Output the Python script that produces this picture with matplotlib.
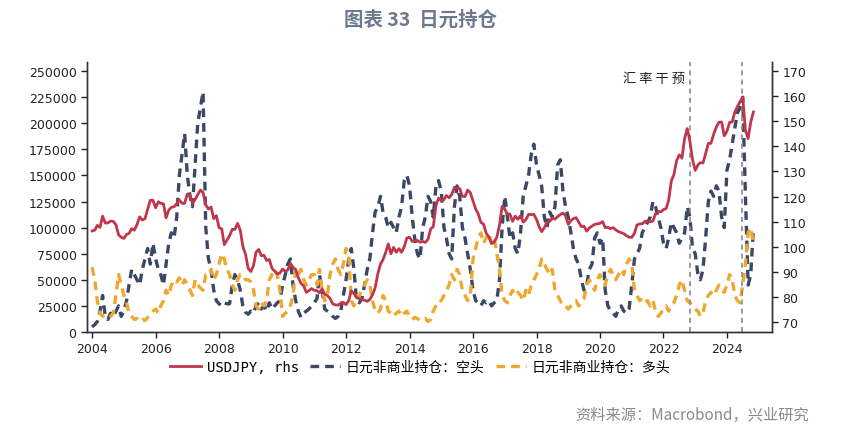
import numpy as np
import pandas as pd
import matplotlib
matplotlib.use("Agg")
import matplotlib.pyplot as plt
import matplotlib.dates as mdates

plt.rcParams['font.family'] = ['DejaVu Sans', 'Noto Sans CJK SC']

# -----------------------------------
# Monthly data, 2004-01 .. 2024-11
# -----------------------------------
usdjpy = [
    106.3, 106.6, 108.5, 107.7, 112.2, 109.4, 109.5, 110.2, 110.1, 108.8, 104.7, 103.8,
    103.3, 104.9, 105.3, 107.2, 106.6, 108.8, 111.9, 110.6, 111.2, 114.9, 118.5, 118.5,
    115.5, 117.9, 117.3, 117.1, 111.5, 114.6, 115.7, 115.9, 117.2, 118.6, 117.3, 117.3,
    121.0, 120.5, 117.3, 118.8, 120.8, 122.6, 121.6, 116.7, 115.0, 115.8, 111.2, 112.4,
    107.6, 107.1, 100.8, 102.6, 104.4, 106.9, 106.9, 109.3, 106.6, 100.1, 96.9, 91.3,
    90.1, 92.5, 97.8, 98.9, 96.4, 96.6, 94.5, 94.9, 91.4, 90.3, 89.1, 89.5,
    91.1, 90.1, 90.7, 93.4, 91.8, 90.8, 87.6, 85.4, 84.4, 81.8, 82.5, 83.3,
    82.6, 82.5, 81.6, 83.2, 81.1, 80.5, 79.4, 77.2, 76.8, 76.7, 77.5, 77.8,
    76.9, 78.5, 82.4, 81.4, 79.7, 79.3, 78.9, 78.7, 78.2, 79.0, 80.8, 83.6,
    89.2, 93.1, 94.8, 97.7, 101.1, 97.2, 99.7, 97.8, 99.2, 97.8, 100.0, 103.5,
    103.8, 102.1, 102.3, 102.5, 101.8, 102.1, 101.7, 102.9, 107.1, 108.0, 116.4, 119.4,
    118.3, 118.8, 120.4, 119.5, 120.8, 123.7, 123.3, 123.2, 120.1, 120.0, 122.6, 121.6,
    118.2, 115.0, 113.1, 109.7, 109.0, 105.4, 103.9, 101.3, 101.8, 103.8, 108.6, 116.1,
    114.9, 113.0, 113.0, 110.1, 112.2, 110.9, 112.4, 109.8, 110.8, 112.9, 112.8, 112.9,
    110.9, 107.9, 106.0, 107.6, 109.7, 110.1, 111.4, 111.0, 112.0, 112.8, 113.4, 112.4,
    108.9, 110.4, 111.2, 111.6, 109.8, 108.0, 108.2, 106.2, 107.5, 108.2, 108.9, 109.1,
    109.3, 110.0, 107.6, 107.7, 107.2, 107.6, 106.7, 106.0, 105.6, 105.2, 104.4, 103.8,
    103.7, 105.4, 108.6, 109.1, 109.1, 110.1, 110.2, 109.9, 110.2, 113.1, 114.0, 113.9,
    114.8, 115.2, 118.5, 126.2, 128.8, 134.3, 136.6, 135.3, 143.1, 147.1, 142.1, 134.8,
    130.4, 132.6, 133.5, 133.4, 137.1, 141.2, 141.2, 144.8, 147.7, 149.6, 149.7, 144.2,
    146.0, 149.6, 149.7, 153.7, 155.9, 157.9, 159.5, 146.3, 143.1, 149.7, 153.7,
]

# 日元非商业持仓：空头 (thousand contracts)
shorts_k = [
    5, 7, 10, 20, 35, 15, 12, 18, 15, 20, 25, 15,
    20, 30, 45, 60, 55, 50, 45, 60, 70, 80, 65, 85,
    70, 60, 55, 45, 65, 85, 95, 90, 110, 150, 170, 190,
    150, 130, 120, 160, 200, 215, 230, 100, 70, 60, 40, 30,
    27, 25, 28, 27, 27, 45, 55, 50, 40, 25, 19, 17,
    20, 18, 25, 28, 22, 25, 20, 28, 22, 25, 28, 30,
    45, 55, 65, 70, 45, 30, 20, 14, 18, 20, 22, 25,
    28, 32, 55, 40, 22, 20, 18, 15, 13, 15, 20, 35,
    50, 70, 80, 60, 30, 28, 32, 45, 60, 70, 95, 115,
    120, 130, 115, 110, 100, 105, 100, 95, 110, 120, 145, 150,
    140, 110, 90, 75, 70, 100, 110, 130, 125, 110, 140, 145,
    135, 100, 90, 75, 70, 120, 140, 130, 100, 90, 75, 60,
    40, 30, 28, 25, 30, 28, 30, 25, 28, 30, 50, 100,
    130, 110, 90, 95, 80, 75, 95, 130, 140, 150, 170, 180,
    160, 150, 140, 110, 100, 115, 110, 120, 160, 165, 135, 120,
    110, 95, 80, 70, 65, 50, 40, 45, 60, 65, 90, 95,
    85, 90, 40, 25, 20, 18, 15, 22, 25, 20, 18, 22,
    45, 70, 75, 80, 95, 100, 105, 110, 125, 120, 110, 100,
    85, 80, 90, 105, 100, 95, 85, 90, 95, 120, 110, 80,
    75, 55, 50, 60, 90, 125, 135, 130, 140, 135, 110, 100,
    155, 165, 180, 195, 210, 215, 225, 130, 45, 55, 100,
]

# 日元非商业持仓：多头 (thousand contracts)
longs_k = [
    62, 50, 30, 18, 15, 16, 14, 15, 18, 35, 55, 45,
    35, 28, 18, 15, 12, 13, 10, 12, 11, 14, 18, 20,
    22, 18, 25, 30, 40, 35, 45, 50, 48, 52, 45, 50,
    45, 40, 35, 50, 45, 42, 40, 55, 55, 60, 50, 55,
    65, 75, 70, 60, 55, 45, 40, 50, 55, 55, 50, 50,
    48, 40, 25, 22, 28, 25, 30, 50, 55, 60, 55, 40,
    15, 18, 20, 25, 35, 60, 55, 60, 50, 45, 50, 55,
    55, 45, 60, 40, 30, 35, 55, 65, 70, 60, 55, 65,
    80, 75, 30, 25, 35, 35, 40, 45, 50, 45, 30, 20,
    18, 22, 35, 30, 20, 18, 15, 18, 20, 15, 18, 20,
    15, 12, 14, 13, 11, 12, 13, 10, 12, 20, 25, 30,
    30, 35, 40, 45, 55, 50, 60, 55, 40, 35, 30, 35,
    70, 80, 90, 95, 85, 90, 95, 85, 90, 75, 60, 35,
    30, 28, 35, 40, 35, 38, 35, 30, 40, 35, 45, 50,
    55, 60, 70, 65, 60, 55, 60, 40, 35, 30, 25, 25,
    22, 25, 28, 30, 25, 30, 32, 45, 50, 45, 40, 50,
    55, 50, 45, 55, 60, 55, 50, 55, 60, 55, 65, 70,
    65, 40, 35, 30, 32, 28, 30, 25, 30, 20, 15, 18,
    22, 25, 20, 25, 28, 35, 45, 50, 40, 30, 28, 25,
    22, 20, 15, 18, 30, 35, 38, 35, 40, 45, 40, 38,
    45, 55, 50, 35, 30, 28, 45, 65, 95, 100, 85,
]

intervention_dates = ["2022-11-05", "2024-06-25"]

dates = pd.date_range("2004-01-01", periods=len(usdjpy), freq="MS")
shorts = np.array(shorts_k) * 1000
longs = np.array(longs_k) * 1000

red = "#c0364c"
navy = "#3a4866"
orange = "#eea72f"

fig = plt.figure(figsize=(8.41, 4.35), dpi=100)
ax = fig.add_axes([0.1034, 0.2345, 0.8146, 0.6205])
ax2 = ax.twinx()

l2, = ax.plot(dates, shorts, color=navy, lw=2.4, dashes=(2.6, 1.8))
l3, = ax.plot(dates, longs, color=orange, lw=2.4, dashes=(2.6, 1.8))
l1, = ax2.plot(dates, usdjpy, color=red, lw=2.0)

for d in intervention_dates:
    ax.axvline(pd.Timestamp(d), color="#8a8a8a", lw=1.2, ls=(0, (3, 2.5)))
ax.text(pd.Timestamp("2022-09-10"), 243000, "汇 率 干 预", ha="right", va="center",
        fontsize=9.5, family=["Noto Sans CJK SC"], color="#222222")

ax.set_xlim(pd.Timestamp("2003-11-03"), pd.Timestamp("2025-06-03"))
ax.set_ylim(0, 258600)
ax2.set_ylim(66.0, 173.6)
ax.set_yticks(range(0, 250001, 25000))
ax2.set_yticks(range(70, 171, 10))
ax.xaxis.set_major_locator(mdates.YearLocator(2))
ax.xaxis.set_major_formatter(mdates.DateFormatter("%Y"))

for a in (ax, ax2):
    a.spines["top"].set_visible(False)
    for s in a.spines.values():
        s.set_color("#333333")
        s.set_linewidth(1.0)
    a.tick_params(labelsize=9, length=4, width=1, colors="#222222")

fig.legend([l1, l2, l3], ["USDJPY, rhs", "日元非商业持仓：空头", "日元非商业持仓：多头"],
           loc="center", bbox_to_anchor=(0.5, 0.155), ncol=3, frameon=False,
           prop={"family": ["DejaVu Sans Mono", "Noto Sans CJK SC"], "size": 10},
           handlelength=2.2, columnspacing=0.8, handletextpad=0.4)

fig.text(0.5, 0.955, "图表 33  日元持仓", ha="center", va="center", fontsize=14,
         fontweight="bold", color="#6d7a8c", family=["Noto Sans CJK SC"])
fig.text(0.962, 0.045, "资料来源：Macrobond，兴业研究", ha="right", va="center",
         fontsize=11, color="#8a8a8a", family=["Noto Sans CJK SC"])

fig.savefig("out.png", dpi=100)
